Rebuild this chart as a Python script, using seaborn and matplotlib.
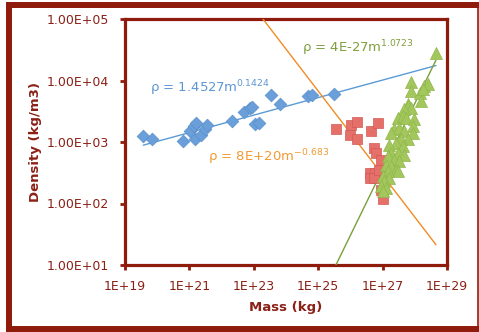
import numpy as np
import pandas as pd
import matplotlib
matplotlib.use("Agg")
import matplotlib.pyplot as plt
from matplotlib.lines import Line2D
import seaborn as sns

# ---------------- data ----------------
blue_mass = [3.7e19, 7.1e19, 6.3e20, 1.05e21, 1.35e21, 1.62e21, 1.51e21, 2.34e21, 3.09e21,
             3.55e21, 2.09e22, 4.9e22, 7.76e22, 8.9e22, 1.12e23, 1.41e23, 3.47e23, 6.46e23,
             4.9e24, 6.6e24, 3.09e25]
blue_density = [1245, 1127, 1057, 1500, 1811, 2004, 1099, 1324, 1644, 1858, 2188, 3112, 3614,
                3758, 1932, 2056, 5808, 4207, 5598, 5808, 5970]

red_mass = [3.47e25, 1.02e26, 1.58e26, 9.8e25, 1.66e26, 4.47e26, 7.24e26, 5.25e26, 6.17e26,
            8.7e26, 4.07e26, 4.07e26, 5.75e26, 5.5e26, 8.7e26, 1.0e27, 7.76e26]
red_density = [1644, 1858, 2104, 1324, 1127, 1500, 2056, 804, 667, 518, 314, 261, 314, 261,
               167, 118, 356]

green_mass = [4.54e28, 7.57e27, 7.57e27, 1.47e28, 1.96e28, 2.51e28, 1.75e28, 1.55e28, 5.97e27,
              5.97e27, 7.57e27, 4.68e27, 2.91e27, 4.17e27, 5.28e27, 9.57e27, 8.53e27, 2.28e27,
              3.27e27, 1.8e27, 4.68e27, 8.53e27, 5.97e27, 3.69e27, 2.58e27, 1.59e27, 4.17e27,
              1.8e27, 2.91e27, 4.68e27, 1.42e27, 2.28e27, 3.27e27, 1.26e27, 1.8e27, 2.58e27,
              2.91e27, 1.42e27, 9.93e26, 1.59e27, 1.11e27, 8.79e26, 1.26e27, 9.93e26]
green_density = [27861, 9462, 6745, 6353, 8147, 8690, 7194, 4634, 4093, 3837, 3614, 3396, 2483,
                 2636, 2483, 2328, 1811, 1600, 1706, 1413, 1500, 1413, 1099, 1099, 971, 910, 853,
                 667, 667, 625, 586, 518, 486, 430, 403, 356, 333, 333, 277, 261, 229, 190, 179, 157]

# trendline fits: rho = a * m^b
fit_names = ["blue", "orange", "green"]
fit_a = [1.4527, 8e20, 4e-27]
fit_b = [0.1424, -0.683, 1.0723]
fit_labels = ["ρ = 1.4527m$^{0.1424}$", "ρ = 8E+20m$^{-0.683}$", "ρ = 4E-27m$^{1.0723}$"]
fit_label_pos = [(6.0e19, 7.5e3), (3.9e21, 5.6e2), (3.2e24, 3.4e4)]

x_ticks = [1e19, 1e21, 1e23, 1e25, 1e27, 1e29]
y_ticks = [1e1, 1e2, 1e3, 1e4, 1e5]

# ---------------- styling ----------------
sns.set_style("white")
plt.rcParams['font.family'] = ['DejaVu Sans']

DARK = "#8e1b0c"
TXT = "#8b2016"
c_blue = "#6a9fda"
c_red = "#e5706a"
c_green = "#a3c75c"
line_cols = {"blue": "#5b9bd5", "orange": "#f08c24", "green": "#79a03c"}
text_cols = {"blue": "#5d97d3", "orange": "#f39a35", "green": "#7f9e3e"}

df = pd.DataFrame({
    "mass": blue_mass + red_mass + green_mass,
    "density": blue_density + red_density + green_density,
    "group": ["blue"] * len(blue_mass) + ["red"] * len(red_mass) + ["green"] * len(green_mass),
})

fig = plt.figure(figsize=(4.79, 3.32), dpi=100)
ax = fig.add_axes([125 / 479, 1 - 265 / 332, (447 - 125) / 479, (265 - 19) / 332])
ax.set_xscale("log")
ax.set_yscale("log")

# trend lines over the full data mass range
m_lo = min(df["mass"])
m_hi = max(df["mass"])
for name, a, b in zip(fit_names, fit_a, fit_b):
    xs = np.array([m_lo, m_hi])
    ax.plot(xs, a * xs ** b, color=line_cols[name], lw=1.0, zorder=3)

sns.scatterplot(data=df[df.group == "blue"], x="mass", y="density", marker="D", s=42,
                color=c_blue, edgecolor="#5a8fcc", linewidth=0.5, ax=ax, zorder=4)
sns.scatterplot(data=df[df.group == "red"], x="mass", y="density", marker="s", s=52,
                color=c_red, edgecolor="#d25a55", linewidth=0.5, ax=ax, zorder=4)
sns.scatterplot(data=df[df.group == "green"], x="mass", y="density", marker="^", s=75,
                color=c_green, edgecolor="#8fb84a", linewidth=0.5, ax=ax, zorder=5)

for name, lab, pos in zip(fit_names, fit_labels, fit_label_pos):
    ax.text(pos[0], pos[1], lab, color=text_cols[name], fontsize=9.5, ha="left", va="center",
            zorder=6)

ax.set_xlim(1e19, 1e29)
ax.set_ylim(1e1, 1e5)
ax.set_xticks(x_ticks)
ax.set_yticks(y_ticks)
ax.xaxis.set_minor_locator(matplotlib.ticker.NullLocator())
ax.yaxis.set_minor_locator(matplotlib.ticker.NullLocator())
ax.set_xticklabels([f"1E+{int(round(np.log10(v)))}" for v in x_ticks])
ax.set_yticklabels([f"{v:.2E}" for v in y_ticks])

for sp in ax.spines.values():
    sp.set_color(DARK)
    sp.set_linewidth(2.3)
ax.tick_params(axis="both", colors=DARK, labelcolor=TXT, labelsize=9, length=3.5, width=2,
               direction="out", bottom=True, left=True)
ax.tick_params(axis="y", pad=8)
ax.tick_params(axis="x", pad=7)

ax.set_xlabel("Mass (kg)", color=TXT, fontsize=9.5, fontweight="bold", labelpad=6)
ax.set_ylabel("Density (kg/m3)", color=TXT, fontsize=9.5, fontweight="bold", labelpad=3)

# outer frame
W, H = 479, 332
frame_kw = dict(transform=fig.transFigure, color=DARK, solid_capstyle="projecting")
fig.add_artist(Line2D([8.5 / W, 8.5 / W], [1 - 4.5 / H, 1 - 328.7 / H], lw=4.3, **frame_kw))
fig.add_artist(Line2D([8.5 / W, 1.0], [1 - 4.5 / H, 1 - 4.5 / H], lw=4.3, **frame_kw))
fig.add_artist(Line2D([8.5 / W, 1.0], [1 - 328.7 / H, 1 - 328.7 / H], lw=4.3, **frame_kw))
fig.add_artist(Line2D([478 / W, 478 / W], [1 - 4.5 / H, 1 - 328.7 / H], lw=1.2, **frame_kw))

fig.savefig("out.png", dpi=100)
